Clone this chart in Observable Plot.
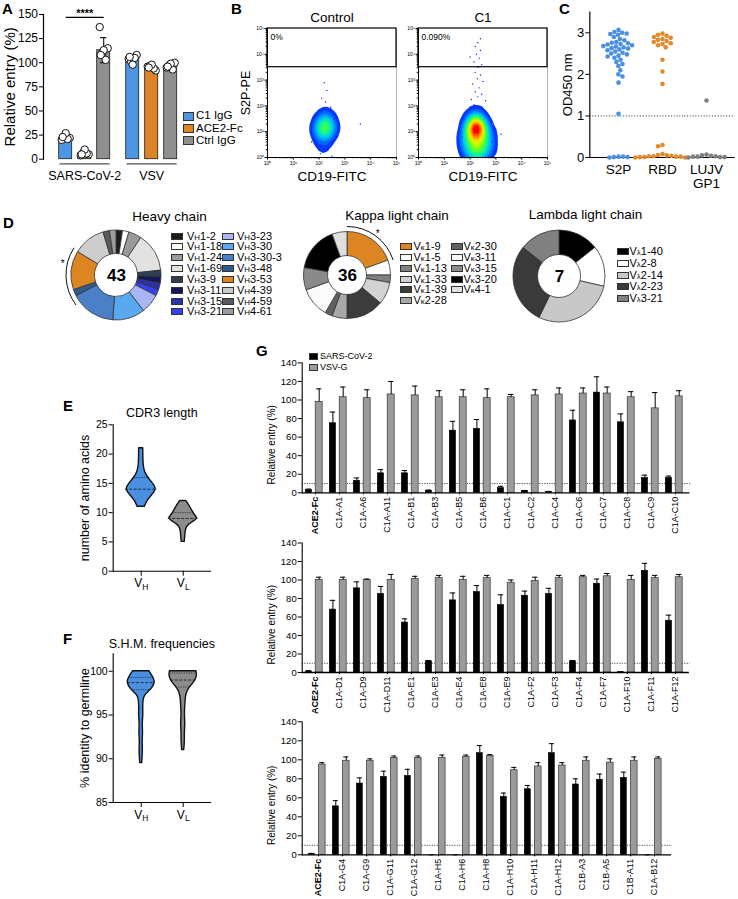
<!DOCTYPE html>
<html>
<head>
<meta charset="utf-8">
<script src="https://cdn.jsdelivr.net/npm/d3@7"></script>
<script src="https://cdn.jsdelivr.net/npm/@observablehq/plot@0.6"></script>
<style>
  html, body { margin: 0; padding: 0; background: #fff; }
  #fig { position: relative; width: 738px; height: 899px; overflow: hidden; background: #fff;
         font-family: "Liberation Sans", Arial, Helvetica, sans-serif; color: #000; }
  #fig svg { position: absolute; }
  .t { position: absolute; white-space: nowrap; }
  .s { font-size: 0.72em; }
</style>
</head>
<body>
<div id="fig"></div>
<script>
// ================= DATA =================
// Panel A
const aGroups = ["SARS-CoV-2", "VSV"];
const aConditions = ["C1 IgG", "ACE2-Fc", "Ctrl IgG"];
const aColors = ["#4d96e4", "#de8428", "#8f8f8f"];
const aMeans = [[22, 6, 113], [104, 95, 96]];
const aSD = [[3, 2, 13], [3, 3, 3]];
const aReplicates = [
  [[20, 22, 24, 21, 27, 23], [4, 5, 7, 6, 10, 5], [137, 115, 110, 103, 113, 108]],
  [[104, 108, 101, 105, 98, 106], [96, 92, 97, 94, 98, 95], [95, 100, 97, 93, 99, 96]]
];
const aTicks = [0, 25, 50, 75, 100, 125, 150];
const aSignificance = {label: "****", value: 147};

// Panel B (flow cytometry, log10 units)
const flowSamples = ["Control", "C1"];
const flowGatePercent = ["0%", "0.090%"];
const flowGate = {x1: 0, x2: 5, y1: 3.5, y2: 5};
const flowDecades = [0, 1, 2, 3, 4, 5];
// [log10 CD19-FITC, log10 S2P-PE, relative event weight]
const flowControlEvents = [[2.22,1.2,18],[2.15,1.0,8.5],[2.3,1.35,8.5],[2.1,1.4,5.5],[2.35,1.0,5.5],[2.2,0.7,5.5],[2.05,0.9,4],[2.4,1.5,3.5],[2.2,1.7,3.5],[2.15,0.4,3],[2.3,0.15,2],[2.0,0.2,1.5],[1.9,1.2,2],[2.55,1.1,2],[2.25,1.95,1.5]];
const flowC1Events = [[2.23,1.22,30],[2.2,1.0,18],[2.28,1.45,12],[2.12,1.3,10],[2.35,1.1,10],[2.1,0.8,10],[2.4,0.75,10],[2.25,0.55,10],[2.0,0.45,8],[2.5,0.45,8],[2.25,0.12,14],[2.05,0.1,8],[2.45,0.1,8],[2.2,1.75,6],[1.9,1.0,6],[2.6,1.0,6],[2.3,2.2,2],[2.35,2.7,1],[2.3,3.2,0.6],[2.35,3.7,0.5],[2.3,4.2,0.4],[1.85,0.3,5],[2.7,0.4,5],[1.95,0.65,6],[2.65,0.7,6],[2.8,0.2,3],[1.8,0.75,3],[2.85,0.9,2.5],[2.75,1.3,2.5],[1.85,1.45,2.5]];
const flowControlSparse = [[2.3,2.6],[2.1,2.3],[2.25,2.15],[2.45,1.95],[1.85,1.6],[2.6,1.5],[2.7,0.8],[1.7,0.6],[2.35,0.3],[2.05,0.15],[2.5,0.05],[2.2,2.9],[3.6,1.3]];
const flowC1Sparse = [[2.3,4.45],[2.2,4.3],[2.4,4.15],[2.25,4.0],[2.35,3.85],[2.15,3.7],[2.45,3.6],[2.3,3.5],[2.2,3.3],[2.4,3.2],[2.28,3.05],[2.5,2.95],[2.1,2.85],[2.35,2.7],[2.2,2.55],[2.45,2.45],[2.3,2.35],[2.05,2.25],[2.6,2.2],[2.15,2.05],[1.75,1.5],[2.8,1.4],[1.7,0.8],[2.85,0.6],[2.9,1.1],[1.65,0.2],[2.95,0.25],[3.2,0.9],[2.4,4.6],[2.0,3.9]];

// Panel C (OD450)
const cAntigens = ["S2P", "RBD", "LUJV GP1"];
const cColors = ["#4a90e2", "#e08a2b", "#7f7f7f"];
const cS2P = [3.07,3.02,3.0,2.98,2.97,2.95,2.9,2.85,2.82,2.78,2.76,2.75,2.73,2.72,2.7,2.68,2.67,2.65,2.63,2.62,2.6,2.58,2.55,2.52,2.5,2.48,2.45,2.43,2.4,2.35,2.3,2.25,2.2,2.1,2.0,1.95,1.8,1.05,0.02,0.01,0.02,0.01,0.0];
const cRBD = [2.98,2.95,2.93,2.9,2.88,2.85,2.83,2.8,2.78,2.75,2.73,2.7,2.65,2.35,2.07,1.77,0.3,0.27,0.08,0.06,0.05,0.04,0.03,0.03,0.02,0.02,0.01,0.01,0.0,0.0];
const cLUJV = [1.37,0.07,0.05,0.04,0.03,0.02,0.02,0.01,0.01,0.0];
const cTicks = [0, 1, 2, 3];
const cCutoff = 1;

// Panel D (V gene usage)
const heavyGenes = ["VH1-2","VH1-18","VH1-24","VH1-69","VH3-9","VH3-11","VH3-15","VH3-21","VH3-23","VH3-30","VH3-30-3","VH3-48","VH3-53","VH4-39","VH4-59","VH4-61"];
const heavyCounts = [1,1,2,6,1,1,1,1,3,5,7,1,6,5,1,1];
const heavyColors = ["#1c1c1c","#ffffff","#9a9a9a","#e2e2e2","#2e3f52","#15195c","#2a34a8","#3442f2","#a9b5f5","#5aa8f0","#4a80c6","#2f5a8e","#dd8522","#cdcdcd","#5a5a5a","#9c9c9c"];
const heavyTotal = 43;
const heavyMarkArc = [233, 303];
const kappaGenes = ["Vκ1-9","Vκ1-5","Vκ1-13","Vκ1-33","Vκ1-39","Vκ2-28","Vκ2-30","Vκ3-11","Vκ3-15","Vκ3-20","Vκ4-1"];
const kappaCounts = [7,2,1,3,5,2,1,4,3,6,2];
const kappaColors = ["#dd8522","#ffffff","#808080","#d2d2d2","#3c3c3c","#a8a8a8","#606060","#fbfbfb","#8a8a8a","#000000","#e0e0e0"];
const kappaTotal = 36;
const kappaMarkArc = [0, 72];
const lambdaGenes = ["Vλ1-40","Vλ2-8","Vλ2-14","Vλ2-23","Vλ3-21"];
const lambdaCounts = [1,1,2,2,1];
const lambdaColors = ["#000000","#ffffff","#c8c8c8","#3a3a3a","#808080"];
const lambdaTotal = 7;

// Panel E (CDR3 length) violin outlines: [value, half-width as fraction of category spacing]
const eCats = ["VH", "VL"];
const eColors = ["#4a90e2", "#8c8c8c"];
const eProfileVH = [[11,0.088],[12,0.143],[13,0.262],[14,0.38],[15,0.279],[16,0.16],[17,0.083],[18,0.06],[19,0.052],[20,0.05],[21,0.048]];
const eProfileVL = [[5,0.036],[6,0.048],[7,0.06],[7.5,0.083],[8,0.143],[8.5,0.262],[9,0.357],[9.5,0.286],[10,0.238],[11,0.167],[12,0.071]];
// [category, value, half-width, kind]
const eLines = [["VH",14,0.38,"median"],["VH",16,0.16,"quartile"],["VL",9,0.357,"median"],["VL",10,0.238,"quartile"]];
const eTicks = [0, 5, 10, 15, 20, 25];

// Panel F (SHM)
const fProfileVH = [[89.5,0.024],[90,0.03],[91,0.043],[92,0.029],[93,0.048],[94,0.031],[95,0.055],[96,0.043],[97,0.06],[97.4,0.12],[97.8,0.214],[98.2,0.286],[98.7,0.326],[99,0.317],[99.5,0.262],[100,0.198]];
const fProfileVL = [[91,0.024],[92,0.043],[93,0.036],[94,0.055],[95,0.036],[96,0.048],[97,0.06],[97.5,0.083],[98,0.131],[98.6,0.238],[99,0.298],[99.5,0.333],[100,0.317]];
const fLines = [["VH",99.3,0.3,"quartile"],["VH",98.7,0.326,"median"],["VH",97.9,0.23,"quartile"],["VL",99.8,0.32,"quartile"],["VL",99.0,0.298,"median"],["VL",98.2,0.16,"quartile"]];
const fTicks = [85, 90, 95, 100];

// Panel G (relative entry, %)
const gSeries = ["SARS-CoV-2", "VSV-G"];
const gColors = ["#000000", "#9b9b9b"];
const gTicks = [0, 20, 40, 60, 80, 100, 120, 140];
const gCutoff = 10;
const g1Cats = ["ACE2-Fc","C1A-A1","C1A-A6","C1A-A11","C1A-B1","C1A-B3","C1A-B5","C1A-B6","C1A-C1","C1A-C2","C1A-C4","C1A-C6","C1A-C7","C1A-C8","C1A-C9","C1A-C10"];
const g1Sars = [3,75,13,21,21,2,67,69,5,2,1,78,108,76,16,16];
const g1SarsSd = [1,12,3,4,3,1,10,10,2,0.5,0.5,11,17,9,3,2];
const g1Vsv = [98,103,102,106,105,103,103,102,103,105,106,107,107,103,91,104];
const g1VsvSd = [14,11,9,14,10,7,8,10,3,6,7,6,7,6,17,6];
const g2Cats = ["ACE2-Fc","C1A-D1","C1A-D9","C1A-D11","C1A-E1","C1A-E3","C1A-E4","C1A-E8","C1A-E9","C1A-F2","C1A-F3","C1A-F4","C1A-F7","C1A-F10","C1A-F11","C1A-F12"];
const g2Sars = [1,68,91,85,54,12,78,87,73,83,85,12,96,0.3,110,56];
const g2SarsSd = [1,10,7,8,4,1,8,7,11,5,6,1,5,0.3,8,6];
const g2Vsv = [100,100,100,100,101,102,100,102,97,99,102,103,104,100,102,103];
const g2VsvSd = [3,3,1,6,3,3,4,3,3,4,3,2,3,5,3,3];
const g3Cats = ["ACE2-Fc","C1A-G4","C1A-G9","C1A-G11","C1A-G12","C1A-H5","C1A-H6","C1A-H8","C1A-H10","C1A-H11","C1A-H12","C1B-A3","C1B-A5","C1B-A11","C1A-B12"];
const g3Sars = [1,51,75,82,83,0,0,107,61,69,107,74,79,81,0];
const g3SarsSd = [0.5,6,6,6,7,0,0,8,4,4,10,6,6,6,0];
const g3Vsv = [95,99,99,102,102,102,103,104,89,93,94,99,97,99,101];
const g3VsvSd = [2,4,2,2,2,3,2,1.5,3,4,3,4,4,4,2];

// ================= HELPERS =================
const FONT = '"Liberation Sans", Arial, Helvetica, sans-serif';
const fig = document.getElementById("fig");
const baseStyle = (fs) => ({fontFamily: FONT, fontSize: fs + "px", background: "transparent", overflow: "visible", color: "#000"});
function put(svg, left, top) {
  svg.style.left = left + "px";
  svg.style.top = top + "px";
  fig.appendChild(svg);
  return svg;
}
function label(html, left, top, fs, extra = "") {
  const d = document.createElement("div");
  d.className = "t";
  d.style.cssText += `left:${left}px;top:${top}px;font-size:${fs}px;line-height:${fs}px;${extra}`;
  d.innerHTML = html;
  fig.appendChild(d);
  return d;
}
function centered(html, cx, cy, fs, extra = "") {
  return label(html, cx - 150, cy - fs / 2, fs, `width:300px;text-align:center;${extra}`);
}
function geneHtml(name) {
  return "V<span class='s'>" + name[1] + "</span>" + name.slice(2);
}
function legend(items, {x, textX, y, dy, sw, sh, fs}) {
  items.forEach((it, i) => {
    const cy = y + i * dy;
    const sq = document.createElement("div");
    sq.style.cssText = `position:absolute;left:${x}px;top:${cy - sh / 2}px;width:${sw}px;height:${sh}px;background:${it.color};border:0.8px solid #333;box-sizing:border-box;`;
    fig.appendChild(sq);
    label(it.html, textX, cy - fs / 2, fs);
  });
}
function safe(fn) { try { fn(); } catch (e) { console.error(e); } }

// ================= PANEL A =================
safe(() => {
const aBarRows = aGroups.flatMap((g, i) => aConditions.map((c, j) => ({group: g, cond: c, mean: aMeans[i][j], sd: aSD[i][j]})));
const aDotRows = aGroups.flatMap((g, i) => aConditions.flatMap((c, j) => aReplicates[i][j].map((v, k) => ({group: g, cond: c, v, k}))));
const aJitter = [-4, 4, -1.5, 2, 0, -3];
put(Plot.plot({
  width: 235, height: 185, marginLeft: 43.3, marginRight: 57.7, marginTop: 14, marginBottom: 26.3,
  style: baseStyle(12),
  fx: {domain: aGroups, paddingInner: 0, paddingOuter: 0, axis: null, label: null},
  x: {domain: aConditions, paddingInner: 0.3, paddingOuter: 0.413, align: 1, axis: null, label: null},
  y: {domain: [0, 150], label: null},
  color: {domain: aConditions, range: aColors},
  marks: [
    Plot.frame({anchor: "left", facetAnchor: "left", strokeWidth: 1.2}),
    Plot.axisY({ticks: aTicks, tickSize: 4, tickPadding: 1.5, fontSize: 12, label: null}),
    Plot.barY(aBarRows, {fx: "group", x: "cond", y: "mean", fill: "cond", stroke: "#1a1a1a", strokeWidth: 0.8}),
    Plot.ruleX(aBarRows, {fx: "group", x: "cond", y1: d => d.mean - d.sd, y2: d => d.mean + d.sd, stroke: "#111", strokeWidth: 1.1}),
    Plot.tickY(aBarRows, {fx: "group", x: "cond", y: d => d.mean + d.sd, insetLeft: 3.3, insetRight: 3.3, strokeWidth: 1.1}),
    Plot.tickY(aBarRows, {fx: "group", x: "cond", y: d => d.mean - d.sd, insetLeft: 3.3, insetRight: 3.3, strokeWidth: 1.1}),
    ...aJitter.map((dx, k) => Plot.dot(aDotRows.filter(d => d.k === k), {fx: "group", x: "cond", y: "v", dx, r: 3.7, fill: "white", stroke: "#111", strokeWidth: 1})),
    Plot.ruleY([aSignificance], {fx: () => aGroups[0], y: "value", insetLeft: 22.7, insetRight: 6.3, strokeWidth: 1.2}),
    Plot.text([aSignificance], {fx: () => aGroups[0], x: () => aConditions[1], y: "value", text: "label", dy: -4, fontSize: 11, fontWeight: "bold"}),
    Plot.ruleY(aGroups, {fx: d => d, y: () => 0, dy: 4.6, insetLeft: 16.5, insetRight: 0.3, stroke: "#555", strokeWidth: 1.3}),
    Plot.text(aGroups, {fx: d => d, x: () => aConditions[1], y: () => 0, dy: 16.5, text: d => d, fontSize: 12.5}),
    Plot.text(["Relative entry (%)"], {fx: () => aGroups[0], frameAnchor: "left", rotate: -90, dx: -33.3, textAnchor: "middle", lineAnchor: "middle", fontSize: 15})
  ]
}), 0, 0);
legend(aConditions.map((c, i) => ({html: c, color: aColors[i]})), {x: 182.7, textX: 196, y: 116.2, dy: 12.05, sw: 11.6, sh: 9, fs: 11.5});
});

// ================= PANEL B =================
safe(() => {
const sup = d => "10" + "⁰¹²³⁴⁵"[d];
const flowMinor = d3.range(0, 5).flatMap(d => d3.range(2, 10).map(m => d + Math.log10(m)));
const flowRows = [
  ...flowControlEvents.map(([x, y, w]) => ({s: flowSamples[0], x, y, w})),
  ...flowC1Events.map(([x, y, w]) => ({s: flowSamples[1], x, y, w}))
];
const flowSparseRows = [
  ...flowControlSparse.map(([x, y]) => ({s: flowSamples[0], x, y})),
  ...flowC1Sparse.map(([x, y]) => ({s: flowSamples[1], x, y}))
];
const gateRows = flowSamples.map((s, i) => ({s, pct: flowGatePercent[i], ...flowGate}));
const jet = d3.interpolateRgbBasis(["#0a0aff", "#0060ff", "#00c8ff", "#00ff99", "#70ff00", "#ffff00", "#ff9000", "#ff0000"]);
put(Plot.plot({
  width: 322, height: 190, marginLeft: 37, marginRight: 5, marginTop: 28, marginBottom: 33,
  style: baseStyle(10),
  fx: {domain: flowSamples, paddingInner: 22 / 151, paddingOuter: 0, axis: null, label: null},
  x: {domain: [0, 5], label: null},
  y: {domain: [0, 5], label: null},
  color: {type: "linear", interpolate: jet},
  marks: [
    Plot.density(flowRows, {fx: "s", x: "x", y: "y", weight: "w", bandwidth: 5, thresholds: 14, fill: "density", stroke: "none", clip: true}),
    Plot.dot(flowSparseRows, {fx: "s", x: "x", y: "y", r: 0.7, fill: "#1a1aff", stroke: "none"}),
    Plot.frame({anchor: "left"}),
    Plot.frame({anchor: "bottom"}),
    Plot.frame({anchor: "right", stroke: "#b5b5b5"}),
    Plot.rect(gateRows, {fx: "s", x1: "x1", x2: "x2", y1: "y1", y2: "y2", stroke: "#000", fill: "none", strokeWidth: 1.2}),
    Plot.text(gateRows, {fx: "s", text: "pct", frameAnchor: "top-left", dx: 3, dy: 5, lineAnchor: "top", textAnchor: "start", fontSize: 8.5}),
    Plot.axisX({ticks: flowDecades, tickSize: 2.5, tickPadding: 1, tickFormat: sup, fontSize: 5, label: null}),
    Plot.axisX({ticks: flowMinor, tickSize: 1.3, tickFormat: () => "", label: null}),
    Plot.axisY({ticks: flowDecades, tickSize: 2.5, tickPadding: 1, tickFormat: sup, fontSize: 5, label: null, facetAnchor: null}),
    Plot.axisY({ticks: flowMinor, tickSize: 1.3, tickFormat: () => "", label: null, facetAnchor: null}),
    Plot.text(flowSamples, {fx: d => d, text: d => d, frameAnchor: "top", dy: -11, lineAnchor: "middle", fontSize: 13.5}),
    Plot.text(flowSamples, {fx: d => d, text: () => "CD19-FITC", frameAnchor: "bottom", dy: 19.5, lineAnchor: "middle", fontSize: 13.5}),
    Plot.text(["S2P-PE"], {fx: () => flowSamples[0], frameAnchor: "left", rotate: -90, dx: -22, textAnchor: "middle", lineAnchor: "middle", fontSize: 12.5})
  ]
}), 230, 0);
});

// ================= PANEL C =================
safe(() => {
const cRows = [
  ...cS2P.map(v => ({a: cAntigens[0], v})),
  ...cRBD.map(v => ({a: cAntigens[1], v})),
  ...cLUJV.map(v => ({a: cAntigens[2], v}))
];
const pad = 6.68; // offset between axis line and first category band
const edgeRules = (y, opts) => cAntigens.map((a, i) => Plot.ruleY([y], {fx: () => a, y: d => d,
  insetLeft: i === 0 ? -pad : 0, insetRight: i === cAntigens.length - 1 ? -pad : 0, ...opts}));
put(Plot.plot({
  width: 218, height: 190, marginLeft: 68 + pad, marginRight: 3 + pad, marginTop: 11.5, marginBottom: 33,
  style: baseStyle(12),
  fx: {domain: cAntigens, paddingInner: 0, paddingOuter: 0, axis: null, label: null},
  y: {domain: [0, 3.5], label: null},
  color: {domain: cAntigens, range: cColors},
  marks: [
    ...edgeRules(cCutoff, {stroke: "#333", strokeWidth: 0.9, strokeDasharray: "1.2,1.6"}),
    ...edgeRules(0, {strokeWidth: 1.2}),
    Plot.frame({anchor: "left", facetAnchor: "left", dx: -pad, strokeWidth: 1.2}),
    Plot.axisY({ticks: cTicks, tickFormat: d => String(d), tickSize: 4, tickPadding: 1.5, dx: -pad, fontSize: 13, label: null}),
    Plot.dot(cRows, Plot.dodgeX({anchor: "middle", padding: 0}, {fx: "a", y: "v", r: 2.3, fill: "a"})),
    Plot.text(cAntigens, {fx: d => d, text: d => d.replace(" ", "\n"), frameAnchor: "bottom", lineAnchor: "top", dy: 6, fontSize: 13.5, lineHeight: 1.05}),
    Plot.text(["OD450 nm"], {fx: () => cAntigens[0], frameAnchor: "left", rotate: -90, dx: -21.5 - pad, textAnchor: "middle", lineAnchor: "middle", fontSize: 13})
  ]
}), 520, 0);
});

// ================= PANEL D =================
function donut(genes, counts, colors, total, rOuter, rInner, markArc, starAngle) {
  const R = 62;
  const color = Plot.scale({color: {domain: genes, range: colors}});
  const rows = genes.map((g, i) => ({gene: g, n: counts[i]}));
  return Plot.plot({
    width: 2 * R, height: 2 * R, margin: 0,
    style: baseStyle(12),
    x: {domain: [-R, R], axis: null}, y: {domain: [-R, R], axis: null},
    marks: [
      (index, scales) => {
        const cx = scales.x(0), cy = scales.y(0);
        const unit = scales.x(1) - scales.x(0);
        const g = d3.create("svg:g").attr("transform", `translate(${cx},${cy})`);
        const arcs = d3.pie().sort(null).value(d => d.n)(rows);
        const arc = d3.arc().innerRadius(rInner * unit).outerRadius(rOuter * unit);
        g.selectAll("path").data(arcs).join("path")
          .attr("d", arc).attr("fill", d => color.apply(d.data.gene))
          .attr("stroke", "#333").attr("stroke-width", 0.8);
        if (markArc) {
          const rr = (rOuter + 5) * unit;
          const p = d3.path();
          const a0 = markArc[0] * Math.PI / 180 - Math.PI / 2, a1 = markArc[1] * Math.PI / 180 - Math.PI / 2;
          p.arc(0, 0, rr, a0, a1);
          g.append("path").attr("d", p.toString()).attr("fill", "none").attr("stroke", "#111").attr("stroke-width", 1);
          const sa = starAngle * Math.PI / 180, rs = (rOuter + 10) * unit;
          g.append("text").attr("x", rs * Math.sin(sa)).attr("y", -rs * Math.cos(sa)).attr("dy", "0.55em")
            .attr("text-anchor", "middle").attr("font-size", 10).text("*");
        }
        return g.node();
      },
      Plot.text([total], {x: () => 0, y: () => 0, text: d => String(d), fontSize: 17, fontWeight: "bold"})
    ]
  });
}
safe(() => {
put(donut(heavyGenes, heavyCounts, heavyColors, heavyTotal, 45, 21.5, heavyMarkArc, 284), 116 - 62, 275 - 62);
put(donut(kappaGenes, kappaCounts, kappaColors, kappaTotal, 43.5, 19.5, kappaMarkArc, 35), 346.5 - 62, 274.5 - 62);
put(donut(lambdaGenes, lambdaCounts, lambdaColors, lambdaTotal, 46, 21.5, null, 0), 559 - 62, 276 - 62);
});
centered("Heavy chain", 169.5, 216.5, 13.5);
centered("Kappa light chain", 397, 216, 13.5);
centered("Lambda light chain", 585.5, 215, 13.5);
const hItems = heavyGenes.map((g, i) => ({html: geneHtml(g), color: heavyColors[i]}));
legend(hItems.slice(0, 8), {x: 171, textX: 187, y: 236, dy: 10.85, sw: 11.7, sh: 7, fs: 11});
legend(hItems.slice(8), {x: 222, textX: 237, y: 236, dy: 10.85, sw: 11.7, sh: 7, fs: 11});
const kItems = kappaGenes.map((g, i) => ({html: geneHtml(g), color: kappaColors[i]}));
legend(kItems.slice(0, 6), {x: 400, textX: 413.5, y: 246.7, dy: 10.8, sw: 11.7, sh: 7, fs: 11});
legend(kItems.slice(6), {x: 451, textX: 463.5, y: 246.7, dy: 10.8, sw: 11.7, sh: 7, fs: 11});
const lItems = lambdaGenes.map((g, i) => ({html: geneHtml(g), color: lambdaColors[i]}));
legend(lItems, {x: 617, textX: 629.5, y: 251.7, dy: 11.65, sw: 11.7, sh: 7, fs: 11});

// ================= PANELS E & F =================
function subscriptTicks(svg) {
  svg.querySelectorAll("text").forEach(t => {
    const s = t.textContent;
    if (s === "VH" || s === "VL") {
      t.textContent = "V";
      const ts = document.createElementNS("http://www.w3.org/2000/svg", "tspan");
      ts.setAttribute("dy", "0.35em");
      ts.setAttribute("font-size", "0.7em");
      ts.textContent = s[1];
      t.appendChild(ts);
    }
  });
  return svg;
}
function violinPlot({profiles, lines, yDomain, yTicks, title, ylabel, mTop, mBottom, titleDy}) {
  const idx = c => eCats.indexOf(c);
  return subscriptTicks(Plot.plot({
    width: 155, height: 200, marginLeft: 52.7, marginRight: 5, marginTop: mTop, marginBottom: mBottom,
    style: baseStyle(10),
    x: {domain: [-0.667, 1.65], label: null},
    y: {domain: yDomain, label: null},
    marks: [
      ...profiles.map((p, i) => Plot.areaX(p, {y: d => d[0], x1: d => i - d[1], x2: d => i + d[1], fill: eColors[i], stroke: "#111", strokeWidth: 1.4, curve: "basis"})),
      Plot.ruleY(lines.filter(d => d[3] === "median"), {y: d => d[1], x1: d => idx(d[0]) - d[2], x2: d => idx(d[0]) + d[2], stroke: "#222", strokeWidth: 0.9, strokeDasharray: "3,1.5"}),
      Plot.ruleY(lines.filter(d => d[3] === "quartile"), {y: d => d[1], x1: d => idx(d[0]) - d[2], x2: d => idx(d[0]) + d[2], stroke: "#222", strokeWidth: 0.8, strokeDasharray: "1.2,1.2"}),
      Plot.frame({anchor: "left", strokeWidth: 1.1}),
      Plot.frame({anchor: "bottom", strokeWidth: 1.1}),
      Plot.axisY({ticks: yTicks, tickSize: 4, tickPadding: 1.5, fontSize: 10.5, label: null}),
      Plot.axisX({ticks: [0, 1], tickFormat: i => eCats[i], tickSize: 5, tickPadding: 2.5, fontSize: 12, label: null}),
      Plot.text([title], {frameAnchor: "top", dy: titleDy, lineAnchor: "middle", fontSize: 12.5}),
      Plot.text([ylabel], {frameAnchor: "left", rotate: -90, dx: -28.7, textAnchor: "middle", lineAnchor: "middle", fontSize: 12.5})
    ]
  }));
}
safe(() => {
put(violinPlot({profiles: [eProfileVH, eProfileVL], lines: eLines, yDomain: [0, 25], yTicks: eTicks,
  title: "CDR3 length", ylabel: "number of amino acids", mTop: 24.3, mBottom: 29.3, titleDy: -12.3}), 60, 400);
put(violinPlot({profiles: [fProfileVH, fProfileVL], lines: fLines, yDomain: [85, 102], yTicks: fTicks,
  title: "S.H.M. frequencies", ylabel: "% identity to germline", mTop: 23.3, mBottom: 28, titleDy: -10.3}), 60, 630);
});

// ================= PANEL G =================
function gPlot(cats, sars, sarsSd, vsv, vsvSd, {mTop, mBottom, mRight}) {
  const W = 460, mLeft = 61.7;
  const bw = (W - mLeft - mRight) / cats.length;
  const rows = cats.map((c, i) => ({c, s: sars[i], ss: sarsSd[i], v: vsv[i], vs: vsvSd[i]}));
  const svg = Plot.plot({
    width: W, height: 190, marginLeft: mLeft, marginRight: mRight, marginTop: mTop, marginBottom: mBottom,
    style: baseStyle(9),
    x: {domain: cats, padding: 0, label: null},
    y: {domain: [0, 140], label: null},
    marks: [
      Plot.ruleY([gCutoff], {stroke: "#222", strokeWidth: 0.8, strokeDasharray: "1.2,1.3", insetRight: -2}),
      Plot.barY(rows, {x: "c", y: "s", fill: gColors[0], stroke: "#000", strokeWidth: 0.6, insetLeft: 0.095 * bw, insetRight: 0.64 * bw}),
      Plot.barY(rows, {x: "c", y: "v", fill: gColors[1], stroke: "#333", strokeWidth: 0.7, insetLeft: 0.505 * bw, insetRight: 0.2 * bw}),
      Plot.ruleX(rows, {x: "c", y1: "s", y2: d => d.s + d.ss, dx: -0.2725 * bw, strokeWidth: 1}),
      Plot.tickY(rows, {x: "c", y: d => d.s + d.ss, insetLeft: 0.2275 * bw - 2.8, insetRight: 0.7725 * bw - 2.8, strokeWidth: 1}),
      Plot.ruleX(rows, {x: "c", y1: "v", y2: d => d.v + d.vs, dx: 0.1525 * bw, strokeWidth: 1}),
      Plot.tickY(rows, {x: "c", y: d => d.v + d.vs, insetLeft: 0.6525 * bw - 2.8, insetRight: 0.3475 * bw - 2.8, strokeWidth: 1}),
      Plot.frame({anchor: "left", strokeWidth: 1.1}),
      Plot.frame({anchor: "bottom", strokeWidth: 1.3}),
      Plot.axisY({ticks: gTicks, tickSize: 4, tickPadding: 1.5, fontSize: 9.5, label: null}),
      Plot.axisX({tickSize: 2, tickPadding: 2, tickRotate: -90, fontSize: 9, label: null}),
      Plot.text(["Relative entry (%)"], {frameAnchor: "left", rotate: -90, dx: -30.7, dy: 17, textAnchor: "middle", lineAnchor: "middle", fontSize: 10})
    ]
  });
  svg.querySelectorAll("text").forEach(t => { if (t.textContent === "ACE2-Fc") t.setAttribute("font-weight", "bold"); });
  return svg;
}
safe(() => {
put(gPlot(g1Cats, g1Sars, g1SarsSd, g1Vsv, g1VsvSd, {mTop: 12.4, mBottom: 47.7, mRight: 11.7}), 240, 350);
put(gPlot(g2Cats, g2Sars, g2SarsSd, g2Vsv, g2VsvSd, {mTop: 12.5, mBottom: 48, mRight: 12.3}), 240, 530);
put(gPlot(g3Cats, g3Sars, g3SarsSd, g3Vsv, g3VsvSd, {mTop: 12.3, mBottom: 44.7, mRight: 30}), 240, 709);
});
legend(gSeries.map((s, i) => ({html: s, color: gColors[i]})), {x: 309, textX: 320, y: 356.5, dy: 11, sw: 9, sh: 7, fs: 9});

// ================= PANEL LETTERS =================
[["A", 2, 0.5], ["B", 231, 0.5], ["C", 559, 0.5], ["D", 3, 215.3], ["E", 63, 398], ["F", 63, 630.6], ["G", 256, 343]]
  .forEach(([l, x, y]) => label(l, x, y, 15, "font-weight:bold;"));
</script>
</body>
</html>
